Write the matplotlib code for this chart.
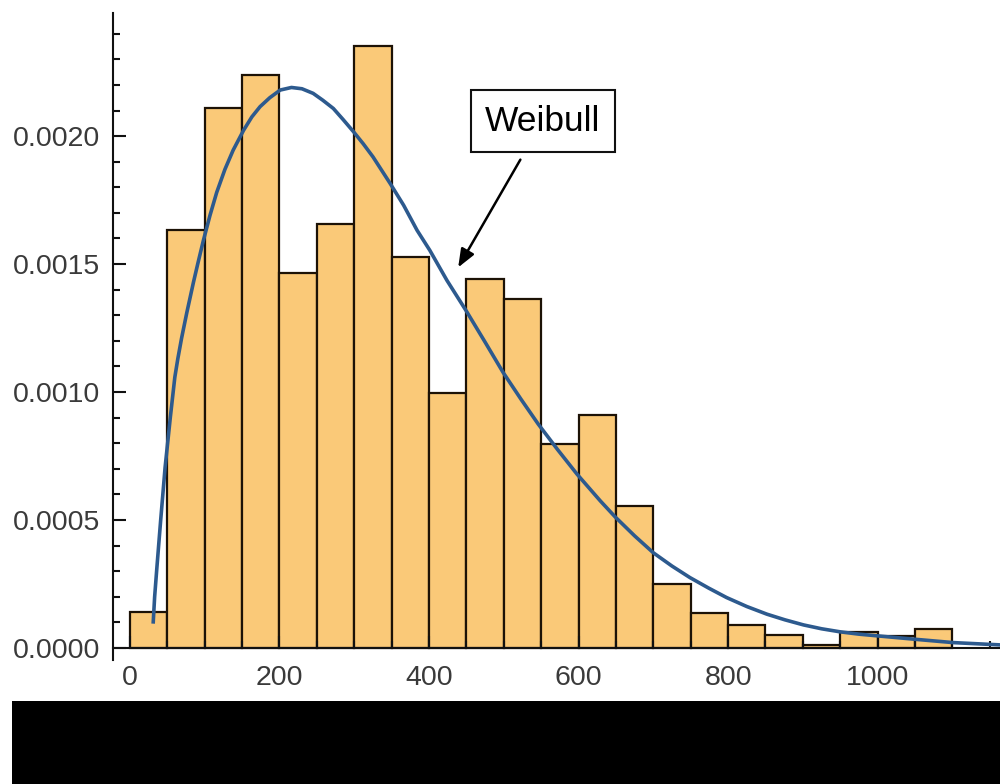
import matplotlib
matplotlib.use("Agg")
import matplotlib.pyplot as plt
from matplotlib.patches import Rectangle
from matplotlib.ticker import MultipleLocator, FormatStrFormatter

# ---- data ----
bin_starts = [0, 50, 100, 150, 200, 250, 300, 350, 400, 450, 500, 550,
              600, 650, 700, 750, 800, 850, 900, 950, 1000, 1050]
bin_width = 50
density = [0.000139, 0.001632, 0.002110, 0.002239, 0.001464, 0.001656,
           0.002352, 0.001526, 0.000998, 0.001440, 0.001362, 0.000798,
           0.000912, 0.000556, 0.000250, 0.000137, 0.000090, 0.000051,
           0.000012, 0.000063, 0.000047, 0.000074]

curve_x = [31, 33, 36, 41, 47, 54, 60, 64, 69, 76, 85, 91, 98, 107, 116,
           127, 138, 152, 163, 174, 187, 201, 216, 230, 245, 258, 272, 285,
           299, 312, 325, 348, 366, 384, 401, 424, 450, 475, 499, 523, 546,
           572, 598, 629, 649, 675, 700, 725, 749, 774, 798, 825, 852, 876,
           901, 925, 950, 975, 1001, 1050, 1101, 1164]
curve_y = [0.000095, 0.000200, 0.000314, 0.000497, 0.000706, 0.000902,
           0.001058, 0.001130, 0.001210, 0.001310, 0.001430, 0.001505,
           0.001590, 0.001690, 0.001780, 0.001870, 0.001945, 0.002023,
           0.002075, 0.002115, 0.002150, 0.002180, 0.002190, 0.002185,
           0.002167, 0.002140, 0.002108, 0.002065, 0.002017, 0.001970,
           0.001919, 0.001815, 0.001730, 0.001632, 0.001554, 0.001436,
           0.001316, 0.001195, 0.001077, 0.000972, 0.000875, 0.000775,
           0.000679, 0.000575, 0.000512, 0.000438, 0.000372, 0.000320,
           0.000275, 0.000234, 0.000197, 0.000162, 0.000132, 0.000110,
           0.000090, 0.000075, 0.000063, 0.000054, 0.000047, 0.000034,
           0.000021, 0.000012]

label_text = "Weibull"
label_pos = (552, 0.002059)
arrow_tip = (439, 0.001487)

# ---- figure ----
plt.rcParams['font.family'] = ['Liberation Sans', 'DejaVu Sans']
fig = plt.figure(figsize=(10, 7.84), dpi=100)
fig.patch.set_facecolor('white')

# black band at the bottom
fig.patches.append(Rectangle((0.012, 0), 0.988, 83 / 784, transform=fig.transFigure,
                             facecolor='black', edgecolor='none', zorder=0))

ax = fig.add_axes([0.113, (784 - 660) / 784, 0.887, (660 - 13) / 784])
ax.set_facecolor('white')

ax.bar(bin_starts, density, width=bin_width, align='edge',
       color='#FAC978', edgecolor='#1c1206', linewidth=1.6, zorder=1)
ax.plot(curve_x, curve_y, color='#2D5A8E', linewidth=2.6, zorder=3,
        solid_capstyle='butt', solid_joinstyle='round')

ax.set_xlim(-22.7, 1163.7)
ax.set_ylim(-0.000047, 0.002481)

for s in ['top', 'right']:
    ax.spines[s].set_visible(False)
ax.spines['bottom'].set_position(('data', 0))
ax.spines['left'].set_linewidth(1.5)
ax.spines['bottom'].set_linewidth(1.5)
ax.spines['left'].set_color('#111111')
ax.spines['bottom'].set_color('#111111')

ax.xaxis.set_major_locator(MultipleLocator(200))
ax.xaxis.set_minor_locator(MultipleLocator(50))
ax.yaxis.set_major_locator(MultipleLocator(0.0005))
ax.yaxis.set_minor_locator(MultipleLocator(0.0001))
ax.yaxis.set_major_formatter(FormatStrFormatter('%.4f'))

ax.tick_params(axis='both', which='both', direction='in', color='#111111')
ax.tick_params(axis='y', which='major', length=9, width=1.5, pad=9,
               labelsize=20.5, labelcolor='#3a3a3a')
ax.tick_params(axis='y', which='minor', length=5, width=1.5)
ax.tick_params(axis='x', which='major', length=9, width=1.5, pad=12,
               labelsize=20.5, labelcolor='#3a3a3a')
ax.tick_params(axis='x', which='minor', length=5, width=1.5)

ax.annotate(label_text, xy=arrow_tip, xytext=label_pos,
            fontsize=25.5, color='black', ha='center', va='center',
            bbox=dict(boxstyle='square,pad=0.4', facecolor='white',
                      edgecolor='#111111', linewidth=1.5),
            arrowprops=dict(arrowstyle='-|>,head_length=0.55,head_width=0.22',
                            mutation_scale=20, color='black', lw=1.8,
                            shrinkA=6, shrinkB=0),
            zorder=5)

fig.savefig('out.png', dpi=100, facecolor='white')
